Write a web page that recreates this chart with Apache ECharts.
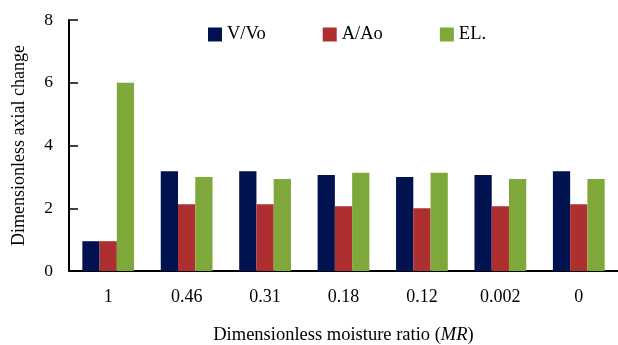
<!DOCTYPE html>
<html>
<head>
<meta charset="utf-8">
<script src="https://cdn.jsdelivr.net/npm/echarts@6/dist/echarts.min.js"></script>
<style>
html,body{margin:0;padding:0;background:#fff;}
#c{width:618px;height:345px;}
</style>
</head>
<body>
<div id="c"></div>
<script>
const categories = ['1', '0.46', '0.31', '0.18', '0.12', '0.002', '0'];
const seriesNames = ['V/Vo', 'A/Ao', 'EL.'];
const vVo = [0.95, 3.18, 3.18, 3.06, 3.0, 3.06, 3.18];
const aAo = [0.95, 2.13, 2.13, 2.06, 2.0, 2.06, 2.13];
const el = [6.0, 3.0, 2.93, 3.13, 3.13, 2.93, 2.93];
const yTicks = [0, 2, 4, 6, 8];

const colors = ['#00124f', '#ae2f2f', '#7fa83a'];
const font = 'Liberation Serif';

const chart = echarts.init(document.getElementById('c'));
chart.setOption({
  animation: false,
  color: colors,
  textStyle: { fontFamily: font, color: '#000' },
  legend: {
    left: 203, top: 20,
    itemWidth: 14, itemHeight: 14, itemGap: 57,
    icon: 'rect',
    textStyle: { fontFamily: font, fontSize: 18.5, color: '#000' },
    data: seriesNames
  },
  grid: { left: 69, right: 0, top: 20, bottom: 74, containLabel: false, outerBoundsMode: 'none' },
  xAxis: {
    type: 'category',
    data: categories,
    name: 'Dimensionless moisture ratio ({i|MR})',
    nameLocation: 'middle',
    nameGap: 55,
    nameTextStyle: { fontFamily: font, fontSize: 18.5, color: '#000',
      rich: { i: { fontFamily: font, fontSize: 18.5, fontStyle: 'italic', color: '#000' } } },
    axisLine: { lineStyle: { color: '#000', width: 2 } },
    axisTick: { inside: true, length: 7, lineStyle: { color: '#000', width: 1.5 } },
    axisLabel: { fontFamily: font, fontSize: 18, color: '#000', margin: 17 }
  },
  yAxis: {
    type: 'value',
    min: yTicks[0], max: yTicks[yTicks.length - 1], interval: 2,
    name: 'Dimensionless axial change',
    nameLocation: 'middle',
    nameGap: 41,
    nameTextStyle: { fontFamily: font, fontSize: 18, color: '#000' },
    axisLine: { show: true, lineStyle: { color: '#000', width: 2 } },
    axisTick: { show: true, inside: true, length: 9, lineStyle: { color: '#000', width: 1.5 } },
    axisLabel: { fontFamily: font, fontSize: 17.5, color: '#000', margin: 16 },
    splitLine: { show: false }
  },
  series: [
    { name: seriesNames[0], type: 'bar', data: vVo, barGap: '0%', barCategoryGap: '34%' },
    { name: seriesNames[1], type: 'bar', data: aAo, barGap: '0%', barCategoryGap: '34%' },
    { name: seriesNames[2], type: 'bar', data: el, barGap: '0%', barCategoryGap: '34%' }
  ]
});
</script>
</body>
</html>
